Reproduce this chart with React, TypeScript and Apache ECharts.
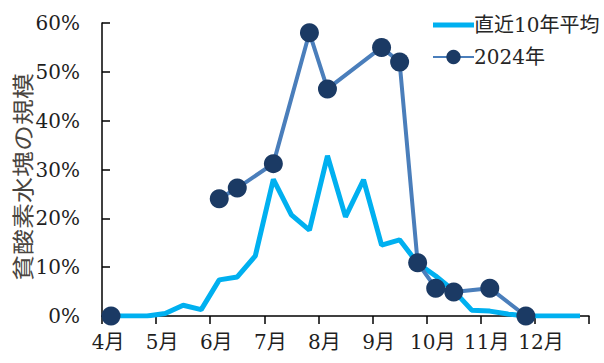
import React, { useEffect, useRef } from "react";
import * as echarts from "echarts";

const categories = [
  "4月上旬", "4月中旬", "4月下旬",
  "5月上旬", "5月中旬", "5月下旬",
  "6月上旬", "6月中旬", "6月下旬",
  "7月上旬", "7月中旬", "7月下旬",
  "8月上旬", "8月中旬", "8月下旬",
  "9月上旬", "9月中旬", "9月下旬",
  "10月上旬", "10月中旬", "10月下旬",
  "11月上旬", "11月中旬", "11月下旬",
  "12月上旬", "12月中旬", "12月下旬",
];

const avg10Year = [
  0, 0, 0, 0.5, 2.2, 1.3, 7.4, 8.0, 12.3, 28.0, 20.7, 17.6, 32.8, 20.3,
  27.9, 14.5, 15.6, 10.8, 8.2, 5.2, 1.2, 1.0, 0.4, 0, 0, 0, 0,
];

const y2024 = [
  null, null, null, null, null, null, 24.0, 26.2, null, 31.2, null, 58.0,
  46.5, null, null, 55.0, 52.0, 10.9, 5.7, 4.9, null, 5.7, null, 0, null,
  null, null,
];

const y2024Start = [
  0, null, null, null, null, null, null, null, null, null, null, null, null,
  null, null, null, null, null, null, null, null, null, null, null, null,
  null, null,
];

const monthLabels = ["4月", "5月", "6月", "7月", "8月", "9月", "10月", "11月", "12月"];

const seriesNames = ["直近10年平均", "2024年"];
const yAxisTitle = "貧酸素水塊の規模";

const FONT = "'DejaVu Serif', 'Noto Sans CJK JP', serif";

export default function App() {
  const ref = useRef<HTMLDivElement>(null);
  useEffect(() => {
    if (!ref.current) return;
    const chart = echarts.init(ref.current, null, { renderer: "svg" });
    chart.setOption({
      animation: false,
      grid: { left: 102, right: 15, top: 23, bottom: 47, containLabel: false },
      legend: {
        orient: "vertical",
        left: 427,
        top: 10,
        itemWidth: 41,
        itemHeight: 18,
        itemGap: 12,
        data: [
          { name: seriesNames[0], icon: "path://M0,0 L41,0 L41,5 L0,5 Z" },
          { name: seriesNames[1] },
        ],
        textStyle: {
          fontFamily: FONT,
          fontSize: 20,
          color: "#262626",
          padding: [0, 0, 0, -5],
        },
      },
      xAxis: {
        type: "category",
        data: categories,
        boundaryGap: true,
        axisLine: { lineStyle: { color: "#000", width: 1.5 } },
        axisTick: { show: true, interval: 2, length: 8, inside: false, lineStyle: { color: "#000", width: 1.5 } },
        axisLabel: {
          interval: 2,
          margin: 16,
          fontFamily: FONT,
          fontSize: 20,
          color: "#1f1f1f",
          padding: [0, 6, 0, 0],
          formatter: (_v: string, idx: number) => monthLabels[Math.floor(idx / 3)],
        },
        splitLine: { show: false },
      },
      yAxis: {
        type: "value",
        min: 0,
        max: 60,
        interval: 10,
        axisLine: { show: true, lineStyle: { color: "#000", width: 1.5 } },
        axisTick: { show: true, inside: true, length: 8, lineStyle: { color: "#000", width: 1.5 } },
        axisLabel: {
          margin: 22,
          fontFamily: FONT,
          fontSize: 20,
          color: "#1f1f1f",
          formatter: "{value}%",
        },
        splitLine: { show: false },
      },
      graphic: [
        {
          type: "text",
          x: 21,
          y: 177,
          rotation: Math.PI / 2,
          scaleY: 0.85,
          style: {
            text: yAxisTitle,
            fontFamily: "'Noto Sans CJK JP', sans-serif",
            fontSize: 26,
            fill: "#4a4540",
            align: "center",
            verticalAlign: "middle",
          },
        },
      ],
      series: [
        {
          name: seriesNames[0],
          type: "line",
          data: avg10Year,
          symbol: "none",
          lineStyle: { color: "#00b0f0", width: 5 },
          itemStyle: { color: "#00b0f0" },
          z: 2,
        },
        {
          name: seriesNames[1],
          type: "line",
          data: y2024,
          connectNulls: true,
          symbol: "circle",
          symbolSize: 19,
          showAllSymbol: true,
          lineStyle: { color: "#4a7ebb", width: 4 },
          itemStyle: { color: "#1b3a64" },
          z: 3,
        },
        {
          name: seriesNames[1],
          type: "line",
          data: y2024Start,
          symbol: "circle",
          symbolSize: 19,
          showAllSymbol: true,
          lineStyle: { color: "#4a7ebb", width: 4 },
          itemStyle: { color: "#1b3a64" },
          z: 3,
        },
      ],
    });
    return () => chart.dispose();
  }, []);
  return <div ref={ref} style={{ width: 604, height: 363, position: "absolute", left: 0, top: 0 }} />;
}
